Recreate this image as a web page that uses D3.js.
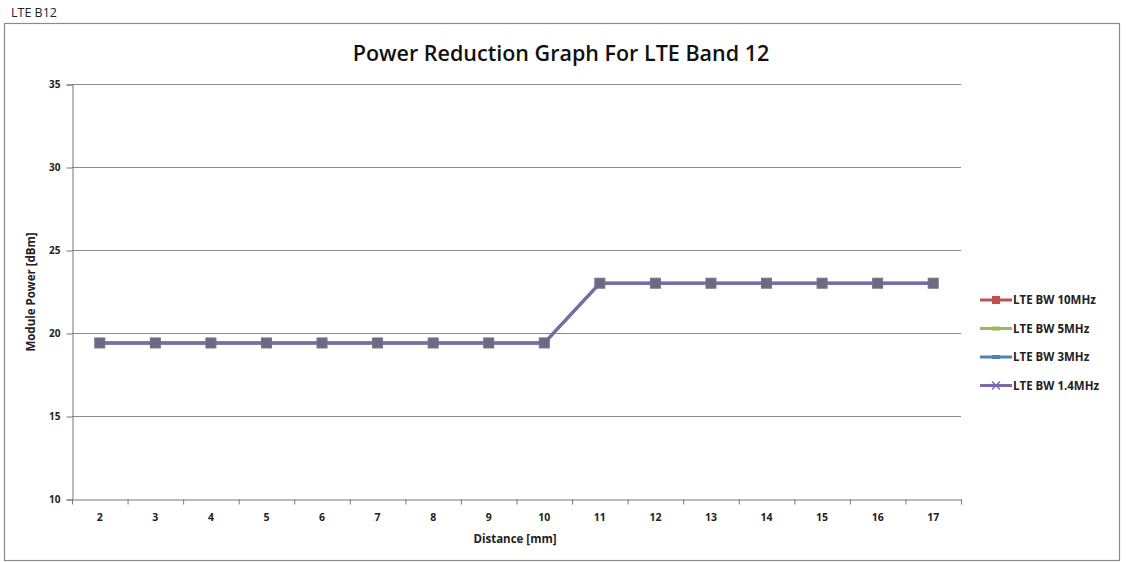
<html>
<head>
<style>
  body { margin: 0; background: #fff; }
  svg text { font-family: "Open Sans", "DejaVu Sans", sans-serif; }
</style>
</head>
<body>
<svg id="chart" width="1127" height="562"></svg>
<script src="https://cdnjs.cloudflare.com/ajax/libs/d3/7.8.5/d3.min.js"></script>
<script>
var distances = [2, 3, 4, 5, 6, 7, 8, 9, 10, 11, 12, 13, 14, 15, 16, 17];
var bw10 = [19.4, 19.4, 19.4, 19.4, 19.4, 19.4, 19.4, 19.4, 19.4, 23, 23, 23, 23, 23, 23, 23];
var bw5 = [19.4, 19.4, 19.4, 19.4, 19.4, 19.4, 19.4, 19.4, 19.4, 23, 23, 23, 23, 23, 23, 23];
var bw3 = [19.4, 19.4, 19.4, 19.4, 19.4, 19.4, 19.4, 19.4, 19.4, 23, 23, 23, 23, 23, 23, 23];
var bw14 = [19.4, 19.4, 19.4, 19.4, 19.4, 19.4, 19.4, 19.4, 19.4, 23, 23, 23, 23, 23, 23, 23];
var seriesNames = ["LTE BW 10MHz", "LTE BW 5MHz", "LTE BW 3MHz", "LTE BW 1.4MHz"];
var yTicks = [10, 15, 20, 25, 30, 35];

var colors = ["#c0504d", "#9bbb59", "#4f81bd", "#7d6aaa"];
var series = [bw10, bw5, bw3, bw14].map(function (v, i) {
    return { name: seriesNames[i], values: v, color: colors[i] };
});

var svg = d3.select("#chart");

// outer frame + sheet label
svg.append("text").attr("x", 11).attr("y", 17).attr("font-size", 12.5).attr("fill", "#222").text("LTE B12");
svg.append("rect").attr("x", 4.5).attr("y", 23.5).attr("width", 1115).attr("height", 537)
    .attr("fill", "none").attr("stroke", "#8a8a8a").attr("stroke-width", 1.2);

svg.append("text").attr("x", 561).attr("y", 61).attr("text-anchor", "middle")
    .attr("font-size", 21.5).attr("font-weight", 600).attr("fill", "#111")
    .text("Power Reduction Graph For LTE Band 12");

var plotL = 72, plotR = 961, plotT = 84, plotB = 499;

var x = d3.scaleBand().domain(distances).range([plotL, plotR]);
var y = d3.scaleLinear().domain([10, 35]).range([plotB, plotT]);

// gridlines
svg.append("g").selectAll("line").data(yTicks.slice(1)).enter().append("line")
    .attr("x1", plotL).attr("x2", plotR)
    .attr("y1", d => y(d) + 0.5).attr("y2", d => y(d) + 0.5)
    .attr("stroke", "#8c8c8c").attr("stroke-width", 1.2);

// y axis
var yAxis = svg.append("g").attr("transform", "translate(" + (plotL + 0.5) + ",0.5)")
    .call(d3.axisLeft(y).tickValues(yTicks).tickSize(6).tickPadding(6));
yAxis.select(".domain").attr("stroke", "#777");
yAxis.selectAll(".tick line").attr("stroke", "#777");
yAxis.selectAll("text").attr("font-size", 10).attr("font-weight", "bold").attr("fill", "#222");

// x axis with ticks at category boundaries
var xAxis = svg.append("g").attr("transform", "translate(0," + (plotB + 0.5) + ")")
    .call(d3.axisBottom(x).tickSize(0).tickPadding(14));
xAxis.select(".domain").attr("stroke", "#777");
xAxis.selectAll("text").attr("font-size", 10.5).attr("font-weight", "bold").attr("fill", "#222");
xAxis.selectAll("line.bnd").data(distances).enter().append("line").attr("class", "bnd")
    .attr("x1", d => x(d) + x.bandwidth() + 0.5).attr("x2", d => x(d) + x.bandwidth() + 0.5)
    .attr("y1", 0).attr("y2", 5).attr("stroke", "#777");
xAxis.append("line").attr("x1", plotL + 0.5).attr("x2", plotL + 0.5).attr("y1", 0).attr("y2", 5).attr("stroke", "#777");

svg.append("text").attr("x", 515).attr("y", 543).attr("text-anchor", "middle")
    .attr("font-size", 11.5).attr("font-weight", "bold").attr("fill", "#222").text("Distance [mm]");
svg.append("text").attr("transform", "translate(35,292) rotate(-90)").attr("text-anchor", "middle")
    .attr("font-size", 11.5).attr("font-weight", "bold").attr("fill", "#222").text("Module Power [dBm]");

// lines
var line = d3.line().x((d, i) => x(distances[i]) + x.bandwidth() / 2).y(d => y(d));
svg.append("g").selectAll("path").data(series).enter().append("path")
    .attr("d", d => line(d.values)).attr("fill", "none")
    .attr("stroke", d => d.color).attr("stroke-width", 3);

// markers (overlapping series appear grey)
var last = series[series.length - 1];
svg.append("g").selectAll("rect").data(last.values).enter().append("rect")
    .attr("x", (d, i) => x(distances[i]) + x.bandwidth() / 2 - 5)
    .attr("y", d => y(d) - 5)
    .attr("width", 10).attr("height", 10)
    .attr("fill", "#6c6a80").attr("stroke", "#77708f").attr("stroke-width", 1);

// legend
var lg = svg.append("g").selectAll("g").data(series).enter().append("g")
    .attr("transform", (d, i) => "translate(980," + (300 + i * 28.5) + ")");
lg.append("line").attr("x1", 0).attr("x2", 32).attr("y1", 0).attr("y2", 0)
    .attr("stroke", d => d.color).attr("stroke-width", 3);
lg.each(function (d, i) {
    var g = d3.select(this);
    if (i === 0) {
        g.append("rect").attr("x", 12).attr("y", -4).attr("width", 8).attr("height", 8).attr("fill", d.color);
    } else if (i === 3) {
        g.append("path").attr("d", "M12,-4L20,4M20,-4L12,4").attr("stroke", d.color).attr("stroke-width", 1.5);
    } else {
        g.append("rect").attr("x", 12).attr("y", -2).attr("width", 8).attr("height", 4).attr("fill", d.color);
    }
});
lg.append("text").attr("x", 33).attr("y", 4).attr("font-size", 11.5).attr("font-weight", "bold")
    .attr("fill", "#222").text(d => d.name);
</script>
</body>
</html>
